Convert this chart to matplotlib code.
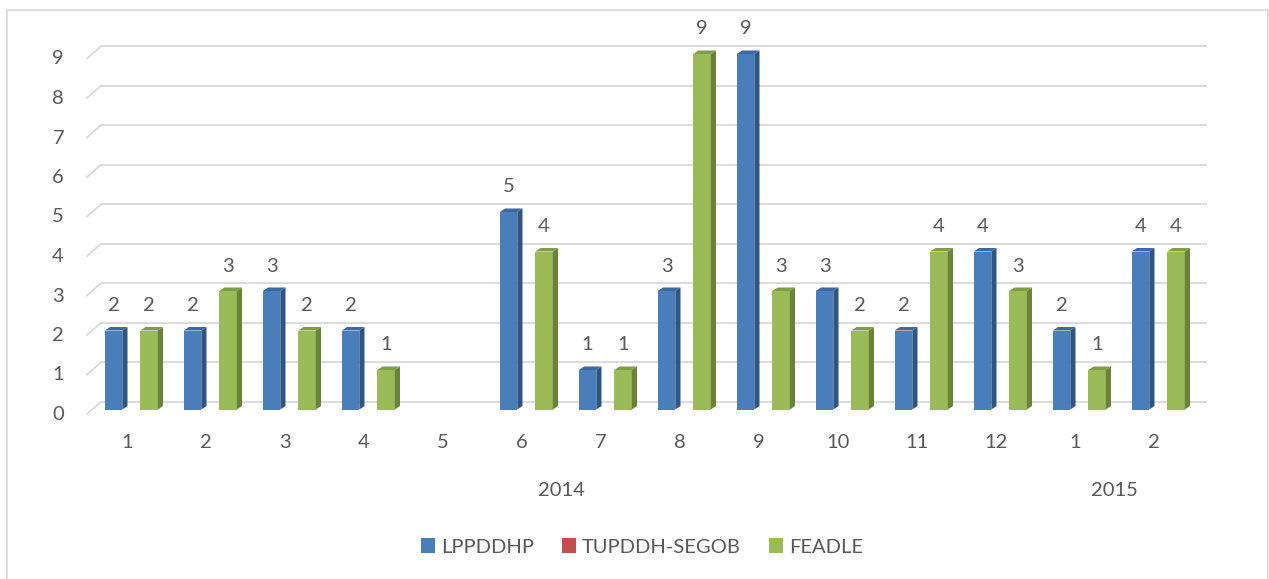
import numpy as np
import matplotlib
matplotlib.use("Agg")
import matplotlib.pyplot as plt
from matplotlib.patches import Polygon, Rectangle

plt.rcParams['font.family'] = ['Lato', 'DejaVu Sans']

# datos
meses = ["1", "2", "3", "4", "5", "6", "7", "8", "9", "10", "11", "12", "1", "2"]
anios = ["2014", "2015"]
meses_por_anio = [12, 2]
series = ["LPPDDHP", "TUPDDH-SEGOB", "FEADLE"]
lppddhp = [2, 2, 3, 2, np.nan, 5, 1, 3, 9, 3, 2, 4, 2, 4]
tupddh_segob = [np.nan] * 14
feadle = [2, 3, 2, 1, np.nan, 4, 1, 9, 3, 2, 4, 3, 1, 4]
y_ticks = list(range(0, 10))

# colores (frente, lado, arriba)
COLORES = [
    ("#4A7EBB", "#2F5682", "#3D69A0"),
    ("#C0504D", "#8C3836", "#A44441"),
    ("#9BBB59", "#67843A", "#7F9C46"),
]
GRIS_TXT = "#595959"
GRIS_LINEA = "#D9D9D9"
FS = 14.5

W, H = 1269, 579
fig = plt.figure(figsize=(W / 100, H / 100), dpi=100)

# ejes: x=-0.5 -> 91.8 px, 1 unidad x = 79 px ; y=0 -> 409.5 px, 1 unidad y = 39.5 px
PX_X, PX_Y = 79.0, 39.5
x0_px, y0_px = 91.8, 409.5
ax = fig.add_axes([x0_px / W, (H - y0_px) / H, 14 * PX_X / W, 10 * PX_Y / H])
ax.set_xlim(-0.5, 13.5)
ax.set_ylim(0, 10)
ax.axis("off")


def px_x(p):
    return -0.5 + (p - x0_px) / PX_X


def px_y(p):
    return (y0_px - p) / PX_Y


# marco exterior
fig.patches.append(Rectangle((7 / W, -0.01), 1261 / W, (H - 10) / H + 0.01,
                             transform=fig.transFigure, fill=False,
                             edgecolor=GRIS_LINEA, linewidth=1.2))

# lineas de la pared del fondo
fondo = 7.8 / PX_Y
for v in y_ticks:
    ax.plot([px_x(101), px_x(1207)], [v + fondo, v + fondo], color=GRIS_LINEA,
            linewidth=1.3, zorder=0, solid_capstyle="butt", clip_on=False)
    ax.plot([px_x(87), px_x(101)], [v + fondo - 12.3 / PX_Y, v + fondo],
            color=GRIS_LINEA, linewidth=1.3, zorder=0, clip_on=False)
    ax.text(px_x(64), v - 5 / PX_Y, str(v), ha="right", va="center",
            fontsize=FS, color=GRIS_TXT)

# barras
x = np.arange(len(meses))
ancho = 17.75 / PX_X
frente = 17.5 / PX_X
dx, dy = 5.2 / PX_X, 3.5 / PX_Y
handles = []
for k, (nombre, valores) in enumerate(zip(series, [lppddhp, tupddh_segob, feadle])):
    c_frente, c_lado, c_arriba = COLORES[k]
    barras = ax.bar(x + (k - 1) * ancho, valores, width=frente, color=c_frente,
                    linewidth=0, label=nombre, zorder=2)
    handles.append(barras)
    for rect in barras:
        h = rect.get_height()
        if not np.isfinite(h):
            continue
        bx, bw = rect.get_x(), rect.get_width()
        ax.add_patch(Polygon([(bx + bw, 0), (bx + bw, h), (bx + bw + dx, h + dy),
                              (bx + bw + dx, dy)], closed=True, facecolor=c_lado,
                             linewidth=0, zorder=2))
        ax.add_patch(Polygon([(bx, h), (bx + bw, h), (bx + bw + dx, h + dy),
                              (bx + dx, h + dy)], closed=True, facecolor=c_arriba,
                             linewidth=0, zorder=2))
        ax.text(bx + bw / 2, h + 25 / PX_Y, f"{h:g}", ha="center", va="center",
                fontsize=FS, color=GRIS_TXT)

# etiquetas del eje de categorias
for i, m in enumerate(meses):
    ax.text(i - 4.5 / PX_X, px_y(443), m, ha="center", va="center",
            fontsize=FS, color=GRIS_TXT)
inicio = 0
for anio, n in zip(anios, meses_por_anio):
    centro = x[inicio:inicio + n].mean()
    ax.text(centro - 4.5 / PX_X, px_y(491), anio, ha="center", va="center",
            fontsize=FS, color=GRIS_TXT)
    inicio += n

fig.legend(handles=handles, labels=series, loc="center", ncol=3,
           bbox_to_anchor=(642 / W, (H - 547) / H), frameon=False, fontsize=FS,
           handlelength=0.7, handleheight=0.7, handletextpad=0.3,
           columnspacing=1.4, labelcolor=GRIS_TXT)

fig.savefig("out.png", dpi=100)
